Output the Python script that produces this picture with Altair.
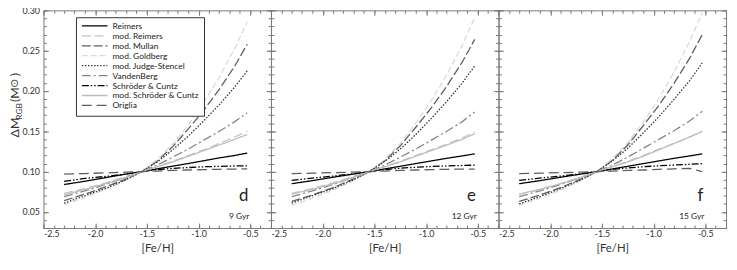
import altair as alt
import pandas as pd

# ---------------- data ----------------
FEH = [-2.3, -2.1, -1.9, -1.7, -1.55, -1.4, -1.25, -1.1, -0.95, -0.8, -0.65, -0.53]

SERIES = ["Reimers", "mod. Reimers", "mod. Mullan", "mod. Goldberg",
          "mod. Judge-Stencel", "VandenBerg", "Schröder & Cuntz",
          "mod. Schröder & Cuntz", "Origlia"]

COLORS = ["#000000", "#c4c4c4", "#5e5e5e", "#dadada", "#333333",
          "#858585", "#000000", "#bdbdbd", "#5e5e5e"]
DASHES = [[1, 0], [9, 4], [9, 3], [6, 3], [1.5, 1.6], [9, 3, 2, 3],
          [7, 2, 1.5, 2, 1.5, 2], [1, 0], [10, 5]]

GYR9 = {
    "Reimers":               [0.084, 0.088, 0.0925, 0.097, 0.100, 0.1034, 0.1068, 0.110, 0.1135, 0.117, 0.120, 0.123],
    "mod. Reimers":          [0.073, 0.079, 0.086, 0.094, 0.100, 0.106, 0.113, 0.120, 0.127, 0.135, 0.143, 0.150],
    "mod. Mullan":           [0.064, 0.072, 0.081, 0.091, 0.100, 0.113, 0.131, 0.153, 0.176, 0.202, 0.231, 0.258],
    "mod. Goldberg":         [0.059, 0.068, 0.078, 0.089, 0.100, 0.115, 0.134, 0.158, 0.186, 0.217, 0.253, 0.286],
    "mod. Judge-Stencel":    [0.061, 0.070, 0.079, 0.090, 0.100, 0.112, 0.127, 0.144, 0.163, 0.183, 0.205, 0.225],
    "VandenBerg":            [0.069, 0.076, 0.084, 0.093, 0.100, 0.108, 0.118, 0.128, 0.139, 0.150, 0.162, 0.173],
    "Schröder & Cuntz":      [0.088, 0.0915, 0.094, 0.097, 0.100, 0.1025, 0.104, 0.105, 0.106, 0.1065, 0.107, 0.107],
    "mod. Schröder & Cuntz": [0.071, 0.078, 0.085, 0.093, 0.100, 0.106, 0.112, 0.119, 0.126, 0.133, 0.140, 0.146],
    "Origlia":               [0.097, 0.0976, 0.0984, 0.0993, 0.100, 0.1007, 0.1014, 0.102, 0.1025, 0.1029, 0.1032, 0.1033],
}

GYR12 = {
    "Reimers":               [0.085, 0.0888, 0.093, 0.097, 0.100, 0.1033, 0.1066, 0.1099, 0.1132, 0.1165, 0.1195, 0.122],
    "mod. Reimers":          [0.073, 0.079, 0.086, 0.094, 0.100, 0.106, 0.113, 0.120, 0.127, 0.134, 0.142, 0.149],
    "mod. Mullan":           [0.063, 0.071, 0.080, 0.091, 0.100, 0.1135, 0.132, 0.155, 0.179, 0.206, 0.236, 0.264],
    "mod. Goldberg":         [0.058, 0.067, 0.077, 0.089, 0.100, 0.115, 0.135, 0.160, 0.188, 0.220, 0.257, 0.291],
    "mod. Judge-Stencel":    [0.061, 0.070, 0.079, 0.090, 0.100, 0.1126, 0.128, 0.146, 0.166, 0.187, 0.210, 0.231],
    "VandenBerg":            [0.069, 0.076, 0.084, 0.093, 0.100, 0.108, 0.118, 0.128, 0.139, 0.150, 0.162, 0.174],
    "Schröder & Cuntz":      [0.089, 0.092, 0.0945, 0.0973, 0.100, 0.1025, 0.1042, 0.1054, 0.1063, 0.107, 0.1076, 0.108],
    "mod. Schröder & Cuntz": [0.072, 0.078, 0.085, 0.093, 0.100, 0.106, 0.112, 0.119, 0.126, 0.133, 0.140, 0.147],
    "Origlia":               [0.0974, 0.098, 0.0987, 0.0994, 0.100, 0.1007, 0.1014, 0.102, 0.1025, 0.1029, 0.1031, 0.103],
}

GYR15 = {
    "Reimers":               [0.085, 0.0888, 0.093, 0.097, 0.100, 0.1033, 0.1066, 0.1099, 0.1132, 0.1165, 0.1195, 0.122],
    "mod. Reimers":          [0.072, 0.078, 0.085, 0.093, 0.100, 0.106, 0.113, 0.120, 0.128, 0.135, 0.143, 0.150],
    "mod. Mullan":           [0.063, 0.071, 0.080, 0.091, 0.100, 0.114, 0.133, 0.157, 0.182, 0.210, 0.241, 0.270],
    "mod. Goldberg":         [0.058, 0.067, 0.077, 0.089, 0.100, 0.116, 0.136, 0.161, 0.191, 0.224, 0.262, 0.297],
    "mod. Judge-Stencel":    [0.060, 0.069, 0.079, 0.090, 0.100, 0.113, 0.129, 0.148, 0.168, 0.190, 0.213, 0.235],
    "VandenBerg":            [0.069, 0.076, 0.084, 0.093, 0.100, 0.108, 0.118, 0.129, 0.140, 0.151, 0.163, 0.175],
    "Schröder & Cuntz":      [0.089, 0.092, 0.0945, 0.0973, 0.100, 0.1027, 0.1046, 0.106, 0.1072, 0.1082, 0.109, 0.110],
    "mod. Schröder & Cuntz": [0.072, 0.078, 0.085, 0.093, 0.100, 0.106, 0.112, 0.119, 0.127, 0.135, 0.143, 0.150],
    "Origlia":               [0.0974, 0.098, 0.0987, 0.0994, 0.100, 0.1007, 0.1014, 0.102, 0.1028, 0.1035, 0.104, 0.100],
}

PANEL_LETTERS = ["d", "e", "f"]
PANEL_AGES = ["9 Gyr", "12 Gyr", "15 Gyr"]

X_MAJOR = [-2.5, -2.0, -1.5, -1.0, -0.5]
X_MINOR = [round(-2.5 + 0.1 * i, 2) for i in range(23)]
Y_MAJOR = [0.05, 0.10, 0.15, 0.20, 0.25, 0.30]
Y_MINOR = [round(0.03 + 0.01 * i, 2) for i in range(28)]

# ---------------- style ----------------
W, H = 231, 221
FRAME = "#7a7a7a"
FONT = "Lato"
TXT = "#333333"

xs = alt.Scale(domain=[-2.5, -0.3], nice=False, zero=False)
ys = alt.Scale(domain=[0.03, 0.30], nice=False, zero=False)


def tick_axis(orient, vals, size):
    return alt.Axis(orient=orient, values=vals, labels=False, domain=False,
                    grid=False, ticks=True, tickSize=size, offset=-size,
                    tickColor=FRAME, tickWidth=1, title=None)


def make_panel(values, letter, age, first):
    rows = []
    for s in SERIES:
        for x, v in zip(FEH, values[s]):
            rows.append({"series": s, "feh": x, "dm": v})
    df = pd.DataFrame(rows)
    base = alt.Chart(df)

    legend = alt.Legend(
        orient="none", legendX=33, legendY=7, title=None,
        symbolType="stroke", symbolSize=676, symbolStrokeWidth=1.3,
        clipHeight=7.5, rowPadding=0.1, labelFontSize=8.6, labelOffset=4,
        labelFont=FONT, labelColor="#222222", padding=5,
        strokeColor="#333333", fillColor="white", labelLimit=200,
    ) if first else None

    x_axis = alt.Axis(orient="bottom", values=X_MAJOR, format=".1f",
                      labelExpr="replace(datum.label, '\u2212', '-')",
                      ticks=False, domain=False, grid=False, labelPadding=2,
                      title="[Fe/H]", titlePadding=4)
    y_axis = alt.Axis(orient="left", values=Y_MAJOR, format=".2f",
                      ticks=False, domain=False, grid=False, labelPadding=4,
                      title=None) if first else None

    lines = base.mark_line(strokeWidth=1.3).encode(
        x=alt.X("feh:Q", scale=xs, axis=x_axis),
        y=alt.Y("dm:Q", scale=ys, axis=y_axis),
        color=alt.Color("series:N", scale=alt.Scale(domain=SERIES, range=COLORS),
                        legend=legend, sort=SERIES),
        strokeDash=alt.StrokeDash("series:N", scale=alt.Scale(domain=SERIES, range=DASHES),
                                  legend=legend, sort=SERIES),
    )

    layers = [lines]
    for xo, yo, xv, yv, sz in [
        ("bottom", "left", X_MINOR, Y_MINOR, 3),
        ("bottom", "left", X_MAJOR, Y_MAJOR, 5),
        ("top", "right", X_MINOR, Y_MINOR, 3),
        ("top", "right", X_MAJOR, Y_MAJOR, 5),
    ]:
        layers.append(base.mark_line(strokeOpacity=0).encode(
            x=alt.X("feh:Q", scale=xs, axis=tick_axis(xo, xv, sz)),
            y=alt.Y("dm:Q", scale=ys, axis=tick_axis(yo, yv, sz)),
        ))

    lab = pd.DataFrame({"letter": [letter], "age": [age]})
    layers.append(alt.Chart(lab).mark_text(
        align="right", baseline="alphabetic", fontSize=17, font=FONT, color="#222222"
    ).encode(text="letter:N", x=alt.value(208), y=alt.value(H - 27)))
    layers.append(alt.Chart(lab).mark_text(
        align="right", baseline="alphabetic", fontSize=8.5, font=FONT, color="#222222"
    ).encode(text="age:N", x=alt.value(209), y=alt.value(H - 9)))

    if first:
        ttl = pd.DataFrame({"a": ["\u0394M"], "b": ["RGB"], "c": ["(M"],
                            "d": ["\u2299"], "e": [")"]})
        pieces = [("a", FONT, 12.5, -25, 129),
                  ("b", FONT, 8.5, -22, 111),
                  ("c", FONT, 12.5, -25, 93),
                  ("d", "DejaVu Sans", 11, -25.5, 78.5),
                  ("e", FONT, 12.5, -25, 67)]
        for field, fnt, fs, px, py in pieces:
            layers.append(alt.Chart(ttl).mark_text(
                align="left", baseline="alphabetic", angle=270, fontSize=fs,
                font=fnt, color=TXT).encode(text=f"{field}:N", x=alt.value(px), y=alt.value(py)))

    return alt.layer(*layers).resolve_axis(x="independent", y="independent").properties(
        width=W, height=H)


panels = [make_panel(v, l, a, i == 0)
          for i, (v, l, a) in enumerate(zip([GYR9, GYR12, GYR15], PANEL_LETTERS, PANEL_AGES))]

chart = alt.hconcat(*panels, spacing=0, bounds="flush").properties(
    padding={"left": 0, "top": -4.5, "right": 2, "bottom": 0}
).configure_view(
    stroke=FRAME, strokeWidth=1
).configure_axis(
    labelFont=FONT, labelFontSize=9, labelColor=TXT,
    titleFont=FONT, titleFontSize=11.5, titleFontWeight="normal", titleColor=TXT,
)

chart.save("out.html", embed_options={"renderer": "svg", "actions": False})
